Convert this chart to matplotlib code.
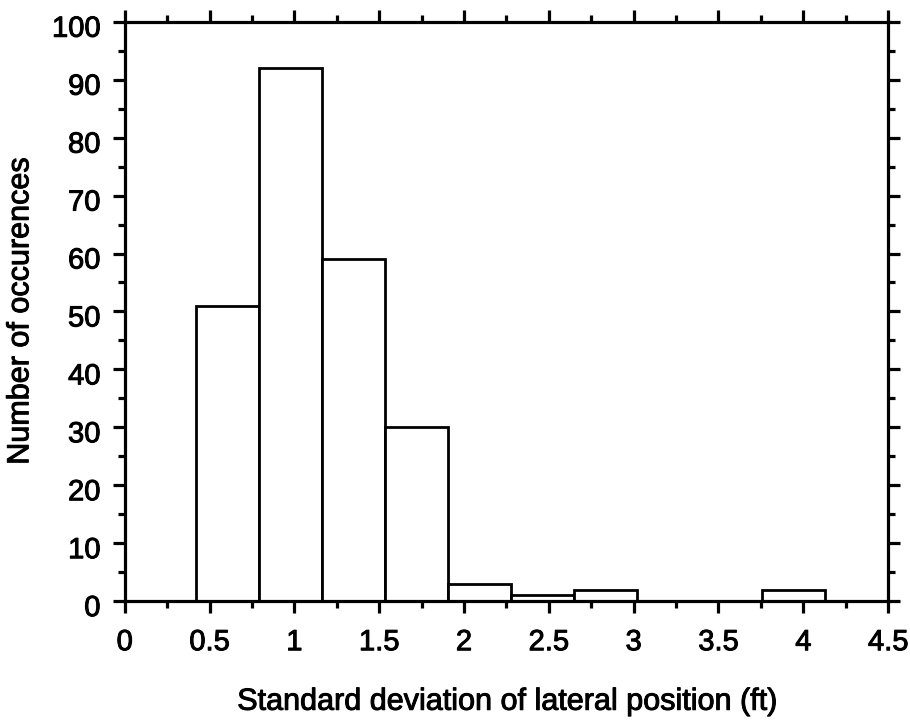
import numpy as np
import matplotlib.pyplot as plt
import matplotlib.patheffects as pe
from matplotlib.ticker import MultipleLocator
from matplotlib.transforms import ScaledTranslation

# histogram bins
bin_edges = [0.423, 0.793, 1.164, 1.535, 1.905, 2.276, 2.646, 3.017, 3.387, 3.758, 4.128]
counts = [51, 92, 59, 30, 3, 1, 2, 0, 0, 2]
xtick_labels = ['0', '0.5', '1', '1.5', '2', '2.5', '3', '3.5', '4', '4.5']

plt.rcParams['font.family'] = ['Liberation Sans', 'DejaVu Sans']

fig = plt.figure(figsize=(9.1, 7.26), dpi=100)
ax = fig.add_axes([0.137, 0.172, 0.839, 0.798])

lefts = np.array(bin_edges[:-1])
widths = np.diff(bin_edges)
heights = np.array(counts)
shown = heights > 0
ax.bar(lefts[shown], heights[shown], width=widths[shown], align='edge',
       facecolor='white', edgecolor='black', linewidth=2)

ax.set_xlim(0, 4.5)
ax.set_ylim(0, 100)
ax.xaxis.set_minor_locator(MultipleLocator(0.25))
ax.yaxis.set_major_locator(MultipleLocator(10))
ax.yaxis.set_minor_locator(MultipleLocator(5))
ax.set_xticks(np.arange(0, 4.51, 0.5))
ax.set_xticklabels(xtick_labels)

ax.tick_params(which='both', direction='out', top=True, right=True,
               width=2.3, color='black', labelsize=21)
ax.tick_params(which='major', length=8.5)
ax.tick_params(which='minor', length=5)
ax.tick_params(axis='x', which='major', pad=11)
ax.tick_params(axis='y', which='major', pad=9)
for s in ax.spines.values():
    s.set_linewidth(2.3)

# y tick labels sit a little below their ticks in the original
shift = ScaledTranslation(0, -0.04, fig.dpi_scale_trans)
for lbl in ax.get_yticklabels():
    lbl.set_transform(lbl.get_transform() + shift)

ax.set_xlabel('Standard deviation of lateral position (ft)', fontsize=22, labelpad=22)
ax.set_ylabel('Number of occurences', fontsize=22, labelpad=12)

# the scanned lettering is a bit heavier than plain Liberation Sans
heavy = [pe.withStroke(linewidth=0.7, foreground='black')]
for t in ax.get_xticklabels() + ax.get_yticklabels() + [ax.xaxis.label, ax.yaxis.label]:
    t.set_path_effects(heavy)

fig.savefig('out.png', dpi=100)
plt.close(fig)
